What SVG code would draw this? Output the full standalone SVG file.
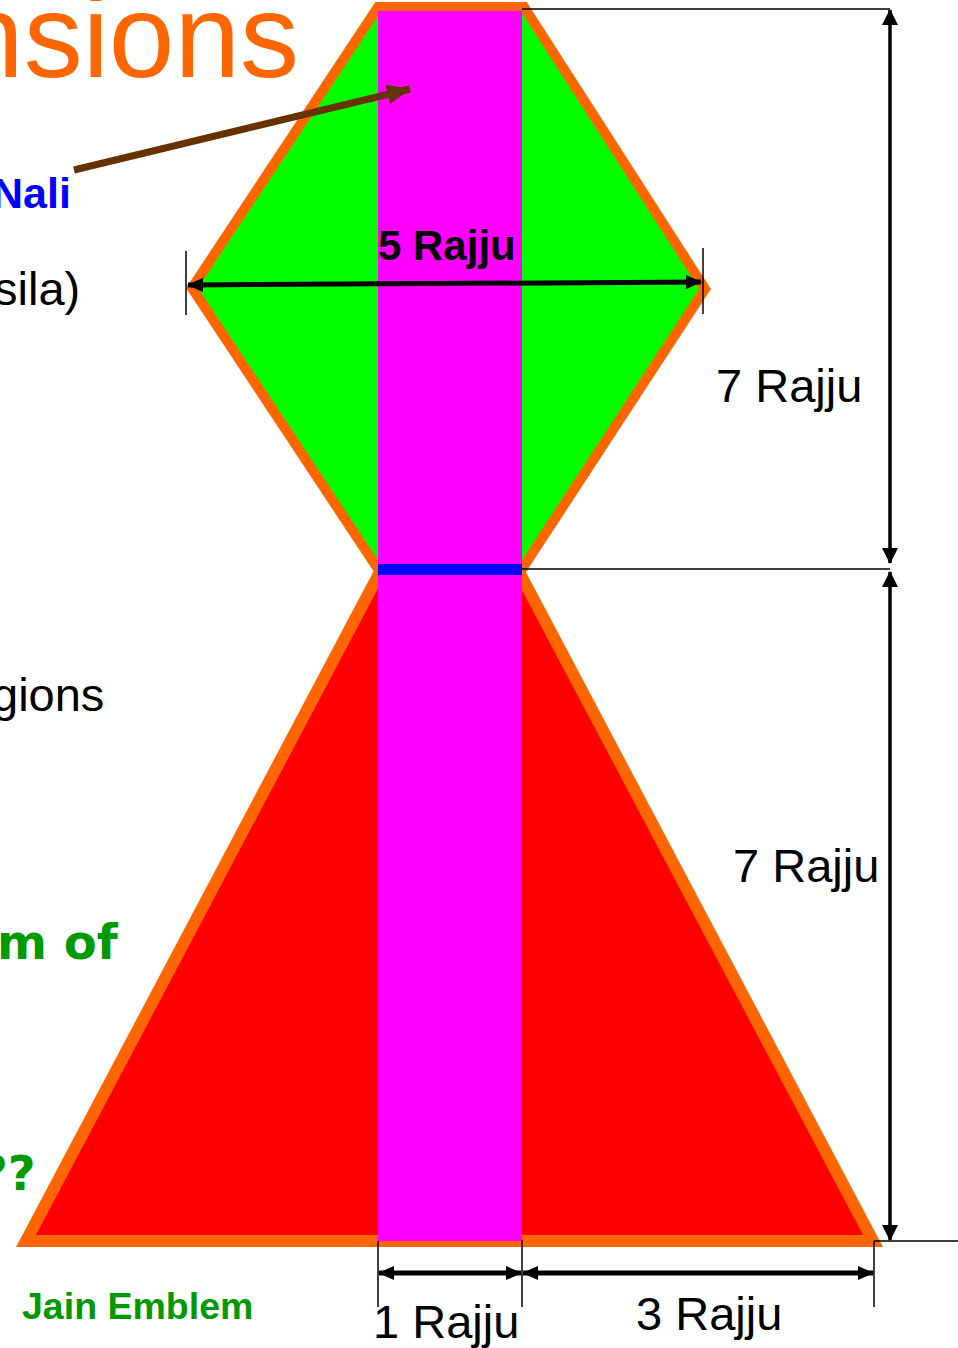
<svg xmlns="http://www.w3.org/2000/svg" width="958" height="1348" viewBox="0 0 958 1348">
<defs>
<style>
.t{font-family:"Liberation Sans",Arial,sans-serif}
.b{font-weight:bold}
.dv{font-family:"DejaVu Sans",Verdana,sans-serif;font-weight:bold;fill:#009900}
.dim{stroke:#000;fill:none}
.thin{stroke:#000;stroke-width:1.5;fill:none}
</style>
<marker id="ah" viewBox="0 0 16 14" refX="15" refY="7" markerWidth="16" markerHeight="14" markerUnits="userSpaceOnUse" orient="auto-start-reverse">
<path d="M0,0 L16,7 L0,14 Z" fill="#000"/>
</marker>
<marker id="ahv" viewBox="0 0 16 16" refX="15" refY="8" markerWidth="16" markerHeight="16" markerUnits="userSpaceOnUse" orient="auto-start-reverse">
<path d="M0,0 L16,8 L0,16 Z" fill="#000"/>
</marker>
<marker id="ahb" viewBox="0 0 24 20" refX="23" refY="10" markerWidth="24" markerHeight="20" markerUnits="userSpaceOnUse" orient="auto">
<path d="M0,0 L24,10 L0,20 Z" fill="#663300"/>
</marker>
</defs>
<rect width="958" height="1348" fill="#fff"/>

<g id="title"><text class="t" x="-42" y="77" font-size="118" fill="#FF6600">nsions</text></g>

<g id="upper-world">
<polygon points="378,7 524,7 705,289 522,569 378,569 192,288" fill="#00FF00" stroke="#FF6600" stroke-width="10" stroke-linejoin="miter"/>
</g>
<g id="lower-world">
<polygon points="381,570 518,570 873,1241 26,1241" fill="#FF0000" stroke="#FF6600" stroke-width="12" stroke-linejoin="miter"/>
</g>
<g id="trasnali">
<rect x="378" y="11" width="144" height="1230" fill="#FF00FF"/>
<rect x="378" y="564" width="144" height="11" fill="#0000FF"/>
</g>

<g id="labels-left">
<text class="t b" x="-8" y="208" font-size="43" fill="#0000FF">Nali</text>
<text class="t" x="-6" y="305" font-size="47" fill="#000">sila)</text>
<text class="t" x="-8" y="711" font-size="47" fill="#000">gions</text>
<text class="dv" x="-3" y="959" font-size="48">m of</text>
<text class="dv" x="-20" y="1190" font-size="48">??</text>
<text class="t b" x="22" y="1319" font-size="37.5" fill="#009900">Jain Emblem</text>
</g>

<g id="connectors">
<line x1="74" y1="170" x2="410" y2="89" stroke="#663300" stroke-width="7" marker-end="url(#ahb)"/>
<line class="dim" x1="188" y1="285" x2="701" y2="282" stroke-width="5" marker-start="url(#ah)" marker-end="url(#ah)"/>
<line class="thin" x1="186" y1="251" x2="186" y2="315"/>
<line class="thin" x1="703" y1="248" x2="703" y2="314"/>
<line class="thin" x1="522" y1="9" x2="890" y2="9"/>
<line class="thin" x1="522" y1="569" x2="890" y2="569"/>
<line class="thin" x1="874" y1="1241" x2="958" y2="1241"/>
<line class="dim" x1="890" y1="10" x2="890" y2="563" stroke-width="3.5" marker-start="url(#ahv)" marker-end="url(#ahv)"/>
<line class="dim" x1="890" y1="572" x2="890" y2="1240" stroke-width="3.5" marker-start="url(#ahv)" marker-end="url(#ahv)"/>
<line class="thin" x1="378" y1="1241" x2="378" y2="1307"/>
<line class="thin" x1="522" y1="1240" x2="522" y2="1307"/>
<line class="thin" x1="874" y1="1241" x2="874" y2="1307"/>
<line class="dim" x1="379" y1="1273" x2="521" y2="1273" stroke-width="5" marker-start="url(#ah)" marker-end="url(#ah)"/>
<line class="dim" x1="523" y1="1273" x2="873" y2="1273" stroke-width="5" marker-start="url(#ah)" marker-end="url(#ah)"/>
</g>

<g id="dimension-labels">
<text class="t b" x="378" y="260" font-size="42" fill="#000">5 Rajju</text>
<text class="t" x="716" y="402" font-size="47" fill="#000">7 Rajju</text>
<text class="t" x="733" y="882" font-size="47" fill="#000">7 Rajju</text>
<text class="t" x="373" y="1338" font-size="47" fill="#000">1 Rajju</text>
<text class="t" x="636" y="1330" font-size="47" fill="#000">3 Rajju</text>
</g>
</svg>
